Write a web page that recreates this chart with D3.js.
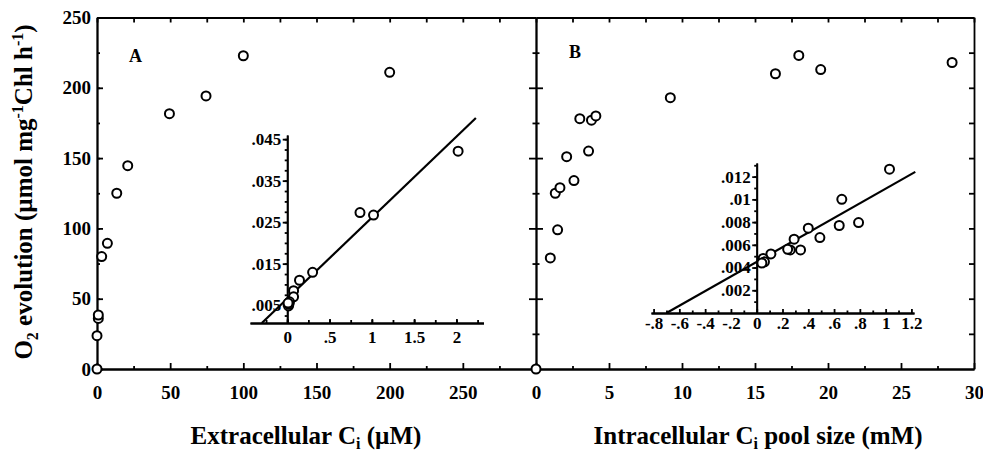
<!DOCTYPE html>
<html>
<head>
<meta charset="utf-8">
<script src="https://cdn.jsdelivr.net/npm/d3@7/dist/d3.min.js"></script>
<style>
  body { margin: 0; background: #fff; }
  svg { display: block; }
</style>
</head>
<body>
<script>
// panel A - O2 evolution vs extracellular Ci (uM)
var extCi = [0, 0, 0.9, 0.9, 3.2, 7.1, 13.5, 21, 49.5, 74.5, 100, 200];
var o2A   = [0, 23.7, 36, 38.4, 80, 89.4, 125, 144.6, 181.6, 194.2, 222.8, 211];

// panel B - O2 evolution vs intracellular Ci pool (mM)
var poolB = [0, 0.98, 1.48, 1.32, 1.64, 2.6, 2.1, 3.6, 3.0, 3.8, 4.1, 9.2, 16.4, 18.0, 19.5, 28.5];
var o2B   = [0, 79, 99, 125, 129, 134, 151, 155, 178, 177, 180, 193, 210, 223, 213, 218];

// inset A points + fitted line end points
var insetAx = [2.02, 0.86, 1.02, 0.30, 0.145, 0.075, 0.075, 0.027, 0.015, 0.02, 0.01];
var insetAy = [0.0421, 0.0273, 0.0267, 0.0129, 0.0110, 0.0085, 0.0070, 0.0058, 0.0048, 0.0052, 0.0055];
var fitAx = [-0.30, 2.23];
var fitAy = [0.0007, 0.0501];

// inset B points + fitted line end points
var insetBx = [1.03, 0.66, 0.79, 0.64, 0.40, 0.49, 0.29, 0.34, 0.26, 0.24, 0.11, 0.05, 0.06, 0.04];
var insetBy = [0.01266, 0.0100, 0.00796, 0.0077, 0.00746, 0.00664, 0.0065, 0.00555, 0.00555, 0.0056, 0.0052, 0.0048, 0.0045, 0.0044];
var fitBx = [-0.70, 1.23];
var fitBy = [0, 0.01242];

// tick labels
var yTicks = [0, 50, 100, 150, 200, 250];
var aTicks = [0, 50, 100, 150, 200, 250];
var bTicks = [0, 5, 10, 15, 20, 25, 30];
var inAxTicks = [0, 0.5, 1, 1.5, 2];
var inAyTicks = [0.005, 0.015, 0.025, 0.035, 0.045];
var inBxTicks = [-0.8, -0.6, -0.4, -0.2, 0, 0.2, 0.4, 0.6, 0.8, 1, 1.2];
var inByTicks = [0.002, 0.004, 0.006, 0.008, 0.01, 0.012];

var width = 983, height = 452;
var serif = '"Liberation Serif", "Times New Roman", serif';

var svg = d3.select('body').append('svg')
  .attr('width', width)
  .attr('height', height)
  .attr('font-family', serif)
  .attr('font-weight', 'bold');

// scales
var y  = d3.scaleLinear().domain([0, 250]).range([369, 17.5]);
var xA = d3.scaleLinear().domain([0, 300]).range([97, 536]);
var xB = d3.scaleLinear().domain([0, 30]).range([536, 974]);
var iax = d3.scaleLinear().domain([-0.44, 2.32]).range([250, 483.5]);
var iay = d3.scaleLinear().domain([0.0007, 0.046]).range([323, 135]);
var ibx = d3.scaleLinear().domain([-0.82, 1.22]).range([651, 914]);
var iby = d3.scaleLinear().domain([0, 0.0132]).range([313, 163]);

// labels like .045 / -.6 / 1.5
var fmt = function(v) {
  return String(+v.toFixed(4)).replace(/^(-?)0\./, '$1.');
};

var axis = function(gen, scale, values, size, fmt, tx, ty, fs, pad) {
  var a = gen(scale).tickValues(values).tickSize(size).tickSizeOuter(0)
    .tickFormat(fmt || '').tickPadding(pad || 3);
  var g = svg.append('g')
    .attr('transform', 'translate(' + tx + ',' + ty + ')')
    .call(a)
    .attr('font-family', serif)
    .attr('font-size', fs || 18)
    .attr('font-weight', 'bold');
  g.selectAll('path, line').attr('stroke', '#000').attr('stroke-width', 1.8);
  return g;
};

// ---- main frame ----
// left axis of A
axis(d3.axisLeft, y, d3.range(25, 250, 25), -3, null, 97, 0);
axis(d3.axisLeft, y, yTicks, -6, d3.format('d'), 97, 0, 19, 6);
// bottom axes
axis(d3.axisBottom, xA, d3.range(25, 300, 50), -3, null, 0, 369);
axis(d3.axisBottom, xA, aTicks, -6, d3.format('d'), 0, 369, 19, 17);
axis(d3.axisBottom, xB, d3.range(2.5, 30, 5), -3, null, 0, 369);
axis(d3.axisBottom, xB, bTicks, -6, d3.format('d'), 0, 369, 19, 17);
// top axes
axis(d3.axisTop, xA, d3.range(0, 300, 25), -5, null, 0, 17.5);
axis(d3.axisTop, xB, d3.range(0, 30.1, 2.5), -5, null, 0, 17.5);
// divider (B left axis) - ticks cross the line
axis(d3.axisLeft, y, d3.range(25, 250, 50), 0, null, 536, 0)
  .selectAll('.tick line').attr('x1', -3.5).attr('x2', 3.5);
axis(d3.axisLeft, y, d3.range(50, 250, 50), 0, null, 536, 0)
  .selectAll('.tick line').attr('x1', -7).attr('x2', 7);
// right axis of B
axis(d3.axisRight, y, d3.range(25, 250, 25), -5, null, 974, 0);

// ---- insets ----
axis(d3.axisLeft, iay, d3.range(0.0025, 0.046, 0.0025), 2.5, null, iax(0), 0);
axis(d3.axisLeft, iay, inAyTicks, 4.5, fmt, iax(0), 0, 17, 1.5);
axis(d3.axisBottom, iax, d3.range(-0.25, 2.3, 0.25), -3, null, 0, iay.range()[0]);
axis(d3.axisBottom, iax, inAxTicks, -4, fmt, 0, iay.range()[0], 17, 8);

axis(d3.axisLeft, iby, d3.range(0.001, 0.0131, 0.001), 2.5, null, ibx(0), 0);
axis(d3.axisLeft, iby, inByTicks, 4.5, fmt, ibx(0), 0, 17, 1.5);
axis(d3.axisBottom, ibx, d3.range(-0.7, 1.21, 0.2), -2.5, null, 0, iby.range()[0]);
axis(d3.axisBottom, ibx, inBxTicks, -4, fmt, 0, iby.range()[0], 17, 4);

// fitted lines
var lineA = d3.line().x(function(d) { return iax(d[0]); }).y(function(d) { return iay(d[1]); });
var lineB = d3.line().x(function(d) { return ibx(d[0]); }).y(function(d) { return iby(d[1]); });
svg.append('path').datum(d3.zip(fitAx, fitAy)).attr('d', lineA)
  .attr('fill', 'none').attr('stroke', '#000').attr('stroke-width', 2.2);
svg.append('path').datum(d3.zip(fitBx, fitBy)).attr('d', lineB)
  .attr('fill', 'none').attr('stroke', '#000').attr('stroke-width', 2.2);

// points
var dots = function(xs, ys, sx, sy) {
  svg.append('g').selectAll('circle')
    .data(d3.zip(xs, ys))
    .enter().append('circle')
    .attr('cx', function(d) { return sx(d[0]); })
    .attr('cy', function(d) { return sy(d[1]); })
    .attr('r', 4.5)
    .attr('fill', '#fff')
    .attr('stroke', '#000')
    .attr('stroke-width', 2);
};
dots(extCi, o2A, xA, y);
dots(poolB, o2B, xB, y);
dots(insetAx, insetAy, iax, iay);
dots(insetBx, insetBy, ibx, iby);

// panel letters
svg.append('text').attr('x', 129).attr('y', 62).attr('font-size', 18).text('A');
svg.append('text').attr('x', 569).attr('y', 58).attr('font-size', 18).text('B');

// axis titles
var tA = svg.append('text').attr('x', 306).attr('y', 444)
  .attr('text-anchor', 'middle').attr('font-size', 25);
tA.append('tspan').text('Extracellular C');
tA.append('tspan').attr('font-size', 16).attr('dy', 5).text('i');
tA.append('tspan').attr('dy', -5).text(' (\u00b5M)');

var tB = svg.append('text').attr('x', 758).attr('y', 444)
  .attr('text-anchor', 'middle').attr('font-size', 25);
tB.append('tspan').text('Intracellular C');
tB.append('tspan').attr('font-size', 16).attr('dy', 5).text('i');
tB.append('tspan').attr('dy', -5).text(' pool size (mM)');

var tY = svg.append('text')
  .attr('transform', 'translate(32,192) rotate(-90)')
  .attr('text-anchor', 'middle').attr('font-size', 25);
tY.append('tspan').text('O');
tY.append('tspan').attr('font-size', 16).attr('dy', 6).text('2');
tY.append('tspan').attr('dy', -6).text(' evolution (\u00b5mol mg');
tY.append('tspan').attr('font-size', 16).attr('dy', -9).text('-1');
tY.append('tspan').attr('dy', 9).text('Chl h');
tY.append('tspan').attr('font-size', 16).attr('dy', -9).text('-1');
tY.append('tspan').attr('dy', 9).text(')');
</script>
</body>
</html>
